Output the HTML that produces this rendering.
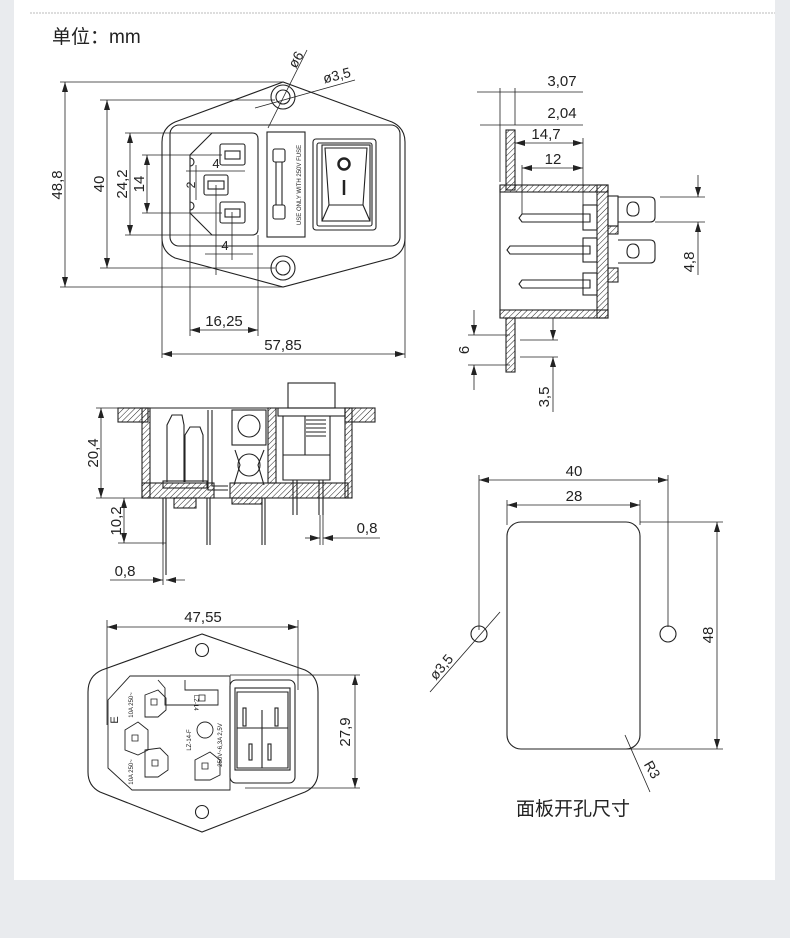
<!DOCTYPE html>
<html><head><meta charset="utf-8">
<style>
html,body{margin:0;padding:0;background:#e9ebee;}
.wrap{position:relative;width:790px;height:938px;overflow:hidden;background:#e9ebee;}
svg{position:absolute;left:0;top:0;}
text{font-family:"Liberation Sans","Noto Sans CJK SC",sans-serif;fill:#222;}
</style></head><body><div class="wrap">
<svg width="790" height="938" viewBox="0 0 790 938" xmlns="http://www.w3.org/2000/svg">
<defs>
<pattern id="h" width="4" height="4" patternUnits="userSpaceOnUse" patternTransform="rotate(45)">
<line x1="0" y1="0" x2="0" y2="4" stroke="#222" stroke-width="1"/>
</pattern>
<marker id="a" viewBox="0 0 10 6" refX="10" refY="3" markerWidth="10" markerHeight="6" orient="auto-start-reverse" markerUnits="userSpaceOnUse">
<path d="M0,0 L10,3 L0,6z" fill="#222"/>
</marker>
</defs>
<rect x="14" y="0" width="761" height="880" fill="#fff"/>
<line x1="30" y1="13" x2="775" y2="13" stroke="#bbb" stroke-width="1" stroke-dasharray="2,1"/>
<text x="52" y="43" font-size="19">单位：mm</text>

<g fill="none" stroke="#222" stroke-width="1.1">
<path d="M283,82 L175,122 Q162,128 162,142 L162,238 Q162,252 175,258 L283,287 L392,258 Q405,252 405,238 L405,142 Q405,128 392,122 Z"/>
<rect x="170" y="125" width="230" height="121" rx="9"/>
<circle cx="283" cy="97" r="12"/><circle cx="283" cy="97" r="7"/>
<circle cx="283" cy="268" r="12"/><circle cx="283" cy="268" r="7"/>
<path d="M212,133 L252,133 Q258,133 258,139 L258,229 Q258,235 252,235 L212,235 L190,213 L190,155 Z"/>
<path d="M190,158 a4,4 0 0 1 0,8 M190,202 a4,4 0 0 1 0,8"/>
<rect x="220" y="144" width="25" height="21" rx="2"/><rect x="225" y="151" width="15" height="8"/>
<rect x="204" y="175" width="24" height="20" rx="2"/><rect x="208" y="181" width="16" height="8"/>
<rect x="220" y="202" width="25" height="21" rx="2"/><rect x="225" y="209" width="15" height="8"/>
<rect x="267" y="132" width="38" height="105"/>
<rect x="273" y="149" width="12" height="13" rx="2"/><rect x="273" y="205" width="12" height="14" rx="2"/>
<line x1="276" y1="162" x2="276" y2="205"/><line x1="282" y1="162" x2="282" y2="205"/>
<rect x="313" y="139" width="63" height="91" rx="3"/>
<rect x="317" y="143" width="55" height="83" rx="2"/>
<rect x="322" y="145" width="48" height="76"/>
<path d="M325,148 L367,148 L363,205 L329,205 Z"/>
<line x1="322" y1="221" x2="329" y2="205"/><line x1="370" y1="221" x2="363" y2="205"/>
<circle cx="344" cy="164" r="5.5" stroke-width="2.5"/>
<line x1="344" y1="180" x2="344" y2="195" stroke-width="2.5"/>
<line x1="60" y1="82" x2="283" y2="82" stroke-width=".8"/>
<line x1="60" y1="287" x2="283" y2="287" stroke-width=".8"/>
<line x1="65" y1="82" x2="65" y2="287" marker-start="url(#a)" marker-end="url(#a)" stroke-width=".8"/>
<line x1="100" y1="100" x2="275" y2="100" stroke-width=".8"/>
<line x1="100" y1="268" x2="275" y2="268" stroke-width=".8"/>
<line x1="107" y1="100" x2="107" y2="268" marker-start="url(#a)" marker-end="url(#a)" stroke-width=".8"/>
<line x1="125" y1="133" x2="212" y2="133" stroke-width=".8"/>
<line x1="125" y1="235" x2="212" y2="235" stroke-width=".8"/>
<line x1="130" y1="133" x2="130" y2="235" marker-start="url(#a)" marker-end="url(#a)" stroke-width=".8"/>
<line x1="142" y1="155" x2="222" y2="155" stroke-width=".8"/>
<line x1="142" y1="213" x2="222" y2="213" stroke-width=".8"/>
<line x1="147" y1="155" x2="147" y2="213" marker-start="url(#a)" marker-end="url(#a)" stroke-width=".8"/>
<line x1="186" y1="171" x2="245" y2="171" stroke-width=".8"/>
<line x1="196" y1="165" x2="196" y2="200" stroke-width=".8"/>
<line x1="216" y1="185" x2="216" y2="275" stroke-width=".8"/>
<line x1="232" y1="212" x2="232" y2="260" stroke-width=".8"/>
<line x1="205" y1="254" x2="253" y2="254" stroke-width=".8"/>
<line x1="190" y1="213" x2="190" y2="336" stroke-width=".8"/>
<line x1="258" y1="235" x2="258" y2="336" stroke-width=".8"/>
<line x1="190" y1="330" x2="258" y2="330" marker-start="url(#a)" marker-end="url(#a)" stroke-width=".8"/>
<line x1="162" y1="240" x2="162" y2="358" stroke-width=".8"/>
<line x1="405" y1="240" x2="405" y2="358" stroke-width=".8"/>
<line x1="162" y1="354" x2="405" y2="354" marker-start="url(#a)" marker-end="url(#a)" stroke-width=".8"/>
<line x1="268" y1="128" x2="307" y2="50" stroke-width=".8"/>
<line x1="255" y1="108" x2="355" y2="80" stroke-width=".8"/>

<rect x="506" y="130" width="9" height="60" fill="url(#h)"/>
<rect x="500" y="185" width="108" height="7" fill="url(#h)"/>
<rect x="597" y="185" width="11" height="133" fill="url(#h)"/>
<rect x="500" y="310" width="108" height="8" fill="url(#h)"/>
<rect x="506" y="318" width="9" height="54" fill="url(#h)"/>
<line x1="500" y1="185" x2="500" y2="318"/>
<line x1="500" y1="192" x2="597" y2="192"/><line x1="500" y1="310" x2="597" y2="310"/>
<path d="M522,214 L590,214 L590,222 L522,222 L519,218 Z"/>
<path d="M510,246 L590,246 L590,254 L510,254 L507,250 Z"/>
<path d="M522,280 L590,280 L590,288 L522,288 L519,284 Z"/>
<rect x="583" y="205" width="14" height="25"/><rect x="583" y="238" width="14" height="24"/><rect x="583" y="273" width="14" height="22"/>
<rect x="608" y="196" width="10" height="30"/>
<rect x="608" y="226" width="10" height="8" fill="url(#h)"/>
<rect x="608" y="268" width="10" height="14" fill="url(#h)"/>
<path d="M618,197 L650,197 Q655,197 655,202 L655,217 Q655,222 650,222 L618,222"/>
<path d="M618,240 L650,240 Q655,240 655,245 L655,258 Q655,263 650,263 L618,263"/>
<path d="M633,202 q6,0 6,8 q0,6 -6,6 q-6,0 -6,-6 q0,-8 6,-8z"/>
<path d="M633,244 q6,0 6,8 q0,6 -6,6 q-6,0 -6,-6 q0,-8 6,-8z"/>
<line x1="477" y1="92" x2="583" y2="92" stroke-width=".8"/>
<line x1="500" y1="88" x2="500" y2="182" stroke-width=".8"/>
<line x1="515" y1="88" x2="515" y2="125" stroke-width=".8"/>
<line x1="480" y1="125" x2="583" y2="125" stroke-width=".8"/>
<line x1="515" y1="143" x2="583" y2="143" marker-start="url(#a)" marker-end="url(#a)" stroke-width=".8"/>
<line x1="522" y1="168" x2="583" y2="168" marker-start="url(#a)" marker-end="url(#a)" stroke-width=".8"/>
<line x1="583" y1="138" x2="583" y2="205" stroke-width=".8"/>
<line x1="522" y1="165" x2="522" y2="214" stroke-width=".8"/>
<line x1="660" y1="197" x2="705" y2="197" stroke-width=".8"/>
<line x1="655" y1="222" x2="705" y2="222" stroke-width=".8"/>
<line x1="698" y1="175" x2="698" y2="197" marker-end="url(#a)" stroke-width=".8"/>
<line x1="698" y1="275" x2="698" y2="222" marker-end="url(#a)" stroke-width=".8"/>
<line x1="468" y1="335" x2="510" y2="335" stroke-width=".8"/>
<line x1="468" y1="365" x2="510" y2="365" stroke-width=".8"/>
<line x1="474" y1="310" x2="474" y2="335" marker-end="url(#a)" stroke-width=".8"/>
<line x1="474" y1="390" x2="474" y2="365" marker-end="url(#a)" stroke-width=".8"/>
<line x1="520" y1="340" x2="558" y2="340" stroke-width=".8"/>
<line x1="520" y1="357" x2="558" y2="357" stroke-width=".8"/>
<line x1="553" y1="318" x2="553" y2="340" marker-end="url(#a)" stroke-width=".8"/>
<line x1="553" y1="412" x2="553" y2="357" marker-end="url(#a)" stroke-width=".8"/>

<rect x="118" y="408" width="30" height="14" fill="url(#h)"/>
<rect x="142" y="408" width="8" height="90" fill="url(#h)"/>
<rect x="142" y="483" width="72" height="15" fill="url(#h)"/>
<rect x="230" y="483" width="118" height="15" fill="url(#h)"/>
<rect x="345" y="408" width="30" height="14" fill="url(#h)"/>
<rect x="345" y="408" width="7" height="90" fill="url(#h)"/>
<rect x="268" y="408" width="8" height="75" fill="url(#h)"/>
<line x1="142" y1="408" x2="352" y2="408"/>
<line x1="142" y1="498" x2="352" y2="498"/>
<path d="M167,482 L167,425 L172,415 L182,415 L184,425 L184,482"/>
<path d="M185,482 L185,435 L190,427 L200,427 L203,435 L203,482"/>
<rect x="163" y="481" width="44" height="7"/>
<rect x="174" y="498" width="22" height="10" fill="url(#h)"/>
<path d="M163,498 L163,545 M166,498 L166,575 M207,498 L207,545 M210,498 L210,545"/>
<path d="M208,410 L208,490 L228,490 M212,410 L212,486 L228,486"/>
<rect x="232" y="410" width="34" height="35"/><circle cx="249" cy="426" r="11"/>
<circle cx="249" cy="465" r="11"/><path d="M234,485 L240,465 L235,450 M264,485 L258,465 L264,450"/>
<rect x="232" y="498" width="30" height="6" fill="url(#h)"/>
<path d="M262,498 L262,545 M265,498 L265,545"/>
<rect x="288" y="383" width="47" height="25"/>
<rect x="278" y="408" width="67" height="8"/>
<path d="M283,416 L283,480 L330,480 L330,416 M305,416 L305,455 M283,455 L330,455"/>
<path d="M306,420 h20 M306,424 h20 M306,428 h20 M306,432 h20 M306,436 h20"/>
<path d="M293,480 V515 M297,480 V515 M319,480 V515 M323,480 V515"/>
<line x1="96" y1="408" x2="142" y2="408" stroke-width=".8"/>
<line x1="96" y1="498" x2="142" y2="498" stroke-width=".8"/>
<line x1="101" y1="408" x2="101" y2="498" marker-start="url(#a)" marker-end="url(#a)" stroke-width=".8"/>
<line x1="118" y1="543" x2="166" y2="543" stroke-width=".8"/>
<line x1="124" y1="498" x2="124" y2="543" marker-start="url(#a)" marker-end="url(#a)" stroke-width=".8"/>
<line x1="110" y1="580" x2="163" y2="580" marker-end="url(#a)" stroke-width=".8"/>
<line x1="185" y1="580" x2="166" y2="580" marker-end="url(#a)" stroke-width=".8"/>
<line x1="163" y1="545" x2="163" y2="585" stroke-width=".8"/>
<line x1="305" y1="538" x2="320" y2="538" marker-end="url(#a)" stroke-width=".8"/>
<line x1="380" y1="538" x2="323" y2="538" marker-end="url(#a)" stroke-width=".8"/>
<line x1="320" y1="515" x2="320" y2="545" stroke-width=".8"/>
<line x1="323" y1="515" x2="323" y2="545" stroke-width=".8"/>

<path d="M202,634 L102,670 Q88,676 88,692 L88,772 Q88,786 100,792 L202,832 L305,792 Q318,786 318,772 L318,692 Q318,676 305,670 Z"/>
<circle cx="202" cy="650" r="6.5"/><circle cx="202" cy="812" r="6.5"/>
<path d="M130,676 L230,676 L230,790 L132,790 L108,768 L108,700 Z" stroke-width=".9"/>
<path d="M158,680 L165,688 L165,705 L218,705 L218,690 L185,690 L185,680" stroke-width=".9"/>
<path d="M145,695 L158,690 L166,698 L166,710 L158,717 L145,717 Z" stroke-width=".9"/>
<path d="M125,730 L138,722 L148,730 L148,750 L138,755 L125,750 Z" stroke-width=".9"/>
<path d="M145,750 L160,748 L168,756 L168,770 L158,777 L145,777 Z" stroke-width=".9"/>
<path d="M195,760 L210,752 L220,760 L220,775 L210,780 L195,780 Z" stroke-width=".9"/>
<circle cx="205" cy="730" r="8" stroke-width=".9"/>
<path d="M151,699 h6 v6 h-6z M199,695 h6 v6 h-6z M132,735 h6 v6 h-6z M152,760 h6 v6 h-6z M202,763 h6 v6 h-6z" stroke-width=".8"/>
<rect x="230" y="680" width="65" height="103" rx="6"/>
<rect x="235" y="688" width="55" height="82"/>
<path d="M237,692 L288,692 L288,768 L237,768 Z M237,728 L288,728 M262,710 L262,768"/>
<rect x="243" y="708" width="3" height="18"/><rect x="275" y="708" width="3" height="18"/>
<rect x="249" y="744" width="3" height="16"/><rect x="268" y="744" width="3" height="16"/>
<line x1="107" y1="620" x2="107" y2="725" stroke-width=".8"/>
<line x1="298" y1="620" x2="298" y2="690" stroke-width=".8"/>
<line x1="107" y1="627" x2="298" y2="627" marker-start="url(#a)" marker-end="url(#a)" stroke-width=".8"/>
<line x1="230" y1="675" x2="360" y2="675" stroke-width=".8"/>
<line x1="245" y1="788" x2="360" y2="788" stroke-width=".8"/>
<line x1="355" y1="675" x2="355" y2="788" marker-start="url(#a)" marker-end="url(#a)" stroke-width=".8"/>

<rect x="507" y="522" width="133" height="227" rx="14"/>
<circle cx="479" cy="634" r="8"/><circle cx="668" cy="634" r="8"/>
<line x1="479" y1="475" x2="479" y2="630" stroke-width=".8"/>
<line x1="668" y1="475" x2="668" y2="627" stroke-width=".8"/>
<line x1="479" y1="480" x2="668" y2="480" marker-start="url(#a)" marker-end="url(#a)" stroke-width=".8"/>
<line x1="507" y1="500" x2="507" y2="525" stroke-width=".8"/>
<line x1="640" y1="500" x2="640" y2="525" stroke-width=".8"/>
<line x1="507" y1="505" x2="640" y2="505" marker-start="url(#a)" marker-end="url(#a)" stroke-width=".8"/>
<line x1="640" y1="522" x2="723" y2="522" stroke-width=".8"/>
<line x1="560" y1="749" x2="723" y2="749" stroke-width=".8"/>
<line x1="717" y1="522" x2="717" y2="749" marker-start="url(#a)" marker-end="url(#a)" stroke-width=".8"/>
<line x1="430" y1="692" x2="500" y2="612" stroke-width=".8"/>
<line x1="625" y1="735" x2="650" y2="792" stroke-width=".8"/>
</g>

<g font-size="15">
<text transform="translate(62,185) rotate(-90)" text-anchor="middle">48,8</text>
<text transform="translate(104,184) rotate(-90)" text-anchor="middle">40</text>
<text transform="translate(127,184) rotate(-90)" text-anchor="middle">24,2</text>
<text transform="translate(144,184) rotate(-90)" text-anchor="middle">14</text>
<text transform="translate(195,185) rotate(-90)" text-anchor="middle" font-size="12">2</text>
<text x="216" y="168" font-size="13" text-anchor="middle">4</text>
<text x="225" y="250" font-size="13" text-anchor="middle">4</text>
<text x="224" y="326" text-anchor="middle">16,25</text>
<text x="283" y="350" text-anchor="middle">57,85</text>
<text transform="translate(300,62) rotate(-60)" text-anchor="middle" font-size="14">ø6</text>
<text transform="translate(338,80) rotate(-14)" text-anchor="middle" font-size="14">ø3,5</text>
<text transform="translate(301,185) rotate(-90)" text-anchor="middle" font-size="6">USE ONLY WITH 250V FUSE</text>
<text x="562" y="86" text-anchor="middle">3,07</text>
<text x="562" y="118" text-anchor="middle">2,04</text>
<text x="546" y="139" text-anchor="middle">14,7</text>
<text x="553" y="164" text-anchor="middle">12</text>
<text transform="translate(694,262) rotate(-90)" text-anchor="middle">4,8</text>
<text transform="translate(469,350) rotate(-90)" text-anchor="middle">6</text>
<text transform="translate(549,397) rotate(-90)" text-anchor="middle">3,5</text>
<text transform="translate(98,453) rotate(-90)" text-anchor="middle">20,4</text>
<text transform="translate(121,521) rotate(-90)" text-anchor="middle">10,2</text>
<text x="125" y="576" text-anchor="middle">0,8</text>
<text x="367" y="533" text-anchor="middle">0,8</text>
<text x="203" y="622" text-anchor="middle">47,55</text>
<text transform="translate(350,732) rotate(-90)" text-anchor="middle">27,9</text>
<text x="574" y="476" text-anchor="middle">40</text>
<text x="574" y="501" text-anchor="middle">28</text>
<text transform="translate(713,635) rotate(-90)" text-anchor="middle">48</text>
<text transform="translate(445,670) rotate(-50)" text-anchor="middle" font-size="14">ø3,5</text>
<text transform="translate(648,772) rotate(60)" text-anchor="middle" font-size="14">R3</text>
<text transform="translate(194,695) rotate(90)" font-size="6">LZ-14</text>
<text transform="translate(191,740) rotate(-90)" text-anchor="middle" font-size="6">LZ-14-F</text>
<text transform="translate(222,745) rotate(-90)" text-anchor="middle" font-size="6">250V~6,3A 2,5V</text>
<text transform="translate(133,705) rotate(-90)" text-anchor="middle" font-size="6">10A 250~</text>
<text transform="translate(133,772) rotate(-90)" text-anchor="middle" font-size="6">10A 250~</text>
<text transform="translate(118,720) rotate(-90)" text-anchor="middle" font-size="11">E</text>
</g>
<text x="516" y="815" font-size="19">面板开孔尺寸</text>
</svg>
</div></body></html>
